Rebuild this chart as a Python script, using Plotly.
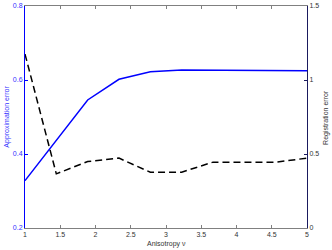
import plotly.graph_objects as go

anisotropy = [1.0, 1.444, 1.889, 2.333, 2.778, 3.222, 3.667, 4.111, 4.556, 5.0]
approx_error = [0.328, 0.437, 0.546, 0.602, 0.622, 0.627, 0.627, 0.626, 0.625, 0.625]
reg_error = [1.175, 0.366, 0.449, 0.472, 0.377, 0.377, 0.445, 0.445, 0.445, 0.472]

fig = go.Figure()
fig.add_trace(go.Scatter(x=anisotropy, y=approx_error, mode="lines",
                         line=dict(color="#0000ff", width=1.5), yaxis="y"))
fig.add_trace(go.Scatter(x=anisotropy, y=reg_error, mode="lines",
                         line=dict(color="#000000", width=1.5, dash="7px,4px"), yaxis="y2"))

font = dict(family="Liberation Sans, Arial, sans-serif", size=7)
fig.update_layout(
    width=332, height=250, showlegend=False,
    margin=dict(l=25, r=25, t=6, b=22, autoexpand=False),
    paper_bgcolor="white", plot_bgcolor="white",
    font=font,
    xaxis=dict(range=[1, 5], dtick=0.5, tick0=1, ticks="inside", ticklen=3,
               showgrid=False, zeroline=False, showline=True, linecolor="#808080",
               linewidth=1, mirror="ticks", tickcolor="#808080", automargin=False,
               tickfont=dict(color="#333333", size=7)),
    yaxis=dict(range=[0.2, 0.8], dtick=0.2, tick0=0.2, ticks="inside", ticklen=3,
               showgrid=False, zeroline=False, showline=True, linecolor="#0000ff",
               linewidth=1, tickcolor="#0000ff", automargin=False,
               tickfont=dict(color="#3333ff", size=7)),
    yaxis2=dict(range=[0, 1.5], dtick=0.5, tick0=0, ticks="inside", ticklen=3,
                overlaying="y", side="right", automargin=False,
                showgrid=False, zeroline=False, showline=True, linecolor="#1a1a5e",
                linewidth=1, tickcolor="#1a1a5e",
                tickfont=dict(color="#333333", size=7)),
    annotations=[
        dict(text="Anisotropy ν", xref="paper", yref="paper", x=0.5, y=-0.045,
             xanchor="center", yanchor="top", showarrow=False,
             font=dict(color="#333333", size=7)),
        dict(text="Approximation error", xref="paper", yref="paper", x=-0.065, y=0.5,
             xanchor="center", yanchor="middle", textangle=-90, showarrow=False,
             font=dict(color="#3333ff", size=7)),
        dict(text="Registration error", xref="paper", yref="paper", x=1.067, y=0.5,
             xanchor="center", yanchor="middle", textangle=-90, showarrow=False,
             font=dict(color="#333333", size=7)),
    ],
)
fig.write_html("out.html", config={"displayModeBar": False},
               post_script="document.body.style.margin='0';")
